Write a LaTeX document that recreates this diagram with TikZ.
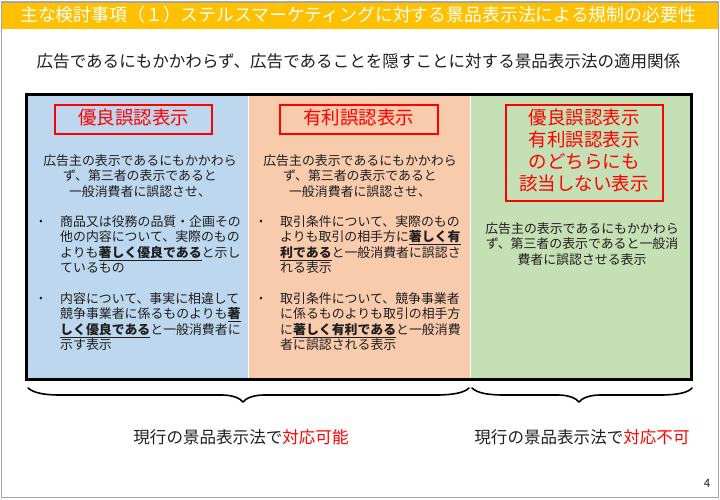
\documentclass[tikz,border=0pt]{standalone}
\usepackage{fontspec}
\setmainfont{Noto Sans CJK JP}
\definecolor{bandcol}{HTML}{FFC000}
\definecolor{bluecol}{HTML}{BDD7EE}
\definecolor{orangecol}{HTML}{F8CBAD}
\definecolor{greencol}{HTML}{C5E0B4}
\definecolor{framecol}{HTML}{A6A6A6}
\definecolor{inkcol}{HTML}{1F1F1F}
\definecolor{redcol}{HTML}{FF0000}
\newcommand{\ul}[1]{\underline{\textbf{#1}}}
\newcommand{\rd}[1]{\textcolor{redcol}{#1}}
\tikzset{
  bodytext/.style={inner sep=0pt,text=inkcol,font=\fontsize{12.9}{15.6}\selectfont},
  blockleft/.style={bodytext,anchor=north west,align=left},
  blockmid/.style={bodytext,anchor=north,align=center},
  bulletmark/.style={inner sep=0pt,text=inkcol,anchor=center,font=\fontsize{10}{12}\selectfont},
  redbox/.style={draw=redcol,line width=2pt},
  redlabel/.style={inner sep=0pt,text=redcol,align=center,font=\fontsize{18.5}{21.8}\selectfont},
  leadtext/.style={inner sep=0pt,text=inkcol,font=\fontsize{16.55}{20}\selectfont},
  bracepath/.style={draw=black,line width=1.6pt,line cap=round,line join=round}
}
\begin{document}
\begin{tikzpicture}[x=1pt,y=-1pt]
\useasboundingbox (0,0) rectangle (720,499);
\fill[white] (0,0) rectangle (720,499);
\fill[bandcol] (2,2) rectangle (718,28.5);
\draw[framecol,line width=1.6pt] (1.5,2) rectangle (718.5,497.5);
\node[inner sep=0pt,anchor=west,text=white,font=\fontsize{17.85}{20}\selectfont] (title) at (20,15) {主な検討事項（１）ステルスマーケティングに対する景品表示法による規制の必要性};
\node[leadtext] (sub) at (358.5,61) {広告であるにもかかわらず、広告であることを隠すことに対する景品表示法の適用関係};
\fill[bluecol] (27,95) rectangle (248,379);
\fill[orangecol] (248,95) rectangle (470,379);
\fill[greencol] (470,95) rectangle (691,379);
\draw[white,line width=.5pt] (248,96) -- (248,378) (470,96) -- (470,378);
\draw[black,line width=3pt] (26.5,94.5) rectangle (691.5,379.5);
\node[redbox,minimum width=157pt,minimum height=29pt,inner sep=0pt] (boxa) at (133.5,119.5) {};
\node[redlabel] (laba) at (133.5,117.5) {優良誤認表示};
\node[redbox,minimum width=158pt,minimum height=29pt,inner sep=0pt] (boxb) at (358.5,119.5) {};
\node[redlabel] (labb) at (358.5,117.5) {有利誤認表示};
\node[redbox,minimum width=157pt,minimum height=96pt,inner sep=0pt] (boxc) at (584,153) {};
\node[redlabel] (labc) at (584,150.5) {優良誤認表示\\有利誤認表示\\のどちらにも\\該当しない表示};
\node[blockmid] (ia) at (140,154) {広告主の表示であるにもかかわら\\ず、第三者の表示であると\\一般消費者に誤認させ、};
\node[bulletmark] (ba1) at (41,222.5) {•};
\node[blockleft] (ta1) at (60,215) {商品又は役務の品質・企画その\\他の内容について、実際のもの\\よりも\ul{著しく優良である}と示し\\ているもの};
\node[bulletmark] (ba2) at (41,299.5) {•};
\node[blockleft] (ta2) at (60,292) {内容について、事実に相違して\\競争事業者に係るものよりも\ul{著}\\\ul{しく優良である}と一般消費者に\\示す表示};
\node[blockmid] (ib) at (360,154) {広告主の表示であるにもかかわら\\ず、第三者の表示であると\\一般消費者に誤認させ、};
\node[bulletmark] (bb1) at (261,222.5) {•};
\node[blockleft] (tb1) at (280,215) {取引条件について、実際のもの\\よりも取引の相手方に\ul{著しく有}\\\ul{利である}と一般消費者に誤認さ\\れる表示};
\node[bulletmark] (bb2) at (261,299.5) {•};
\node[blockleft] (tb2) at (280,292) {取引条件について、競争事業者\\に係るものよりも取引の相手方\\に\ul{著しく有利である}と一般消費\\者に誤認される表示};
\node[blockmid] (ic) at (582,222) {広告主の表示であるにもかかわら\\ず、第三者の表示であると一般消\\費者に誤認させる表示};
\draw[bracepath] (28,388) .. controls (34,393) and (44,395) .. (60,395) -- (222,395) .. controls (232,395) and (240,398) .. (243,402) .. controls (246,398) and (254,395) .. (264,395) -- (436,395) .. controls (452,395) and (464,393) .. (469,388);
\draw[bracepath] (472,388) .. controls (477,393) and (488,395) .. (504,395) -- (558,395) .. controls (568,395) and (576,398) .. (579,402) .. controls (582,398) and (590,395) .. (600,395) -- (660,395) .. controls (676,395) and (688,393) .. (692,388);
\node[leadtext] (oka) at (241,437.5) {現行の景品表示法で\rd{対応可能}};
\node[leadtext] (ng) at (582,437.5) {現行の景品表示法で\rd{対応不可}};
\node[inner sep=0pt,text=inkcol,font=\fontsize{11.5}{13}\selectfont] (pg) at (707,483) {4};
\end{tikzpicture}
\end{document}
